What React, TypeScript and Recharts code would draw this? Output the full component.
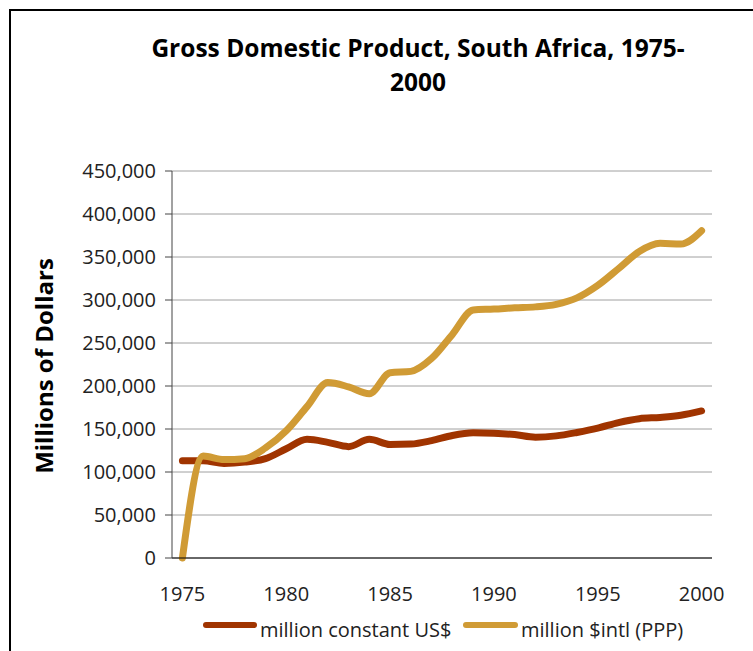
import { LineChart, Line, XAxis, YAxis, CartesianGrid } from 'recharts';

const years = [
  1975, 1976, 1977, 1978, 1979, 1980, 1981, 1982, 1983, 1984, 1985, 1986, 1987,
  1988, 1989, 1990, 1991, 1992, 1993, 1994, 1995, 1996, 1997, 1998, 1999, 2000,
];

// million constant US$
const constantUsd = [
  113000, 113000, 110000, 111500, 115500, 127000, 138000, 134500, 129500, 138000,
  132000, 132500, 136500, 142500, 145500, 145000, 143500, 140500, 142000, 146000,
  151000, 157500, 162000, 163500, 166000, 171000,
];

// million $intl (PPP)
const intlPpp = [
  0, 118500, 114500, 115500, 128000, 148000, 176000, 204000, 199000, 191000,
  215500, 217000, 232000, 260000, 288500, 289500, 291000, 292000, 295000, 302500,
  317000, 336500, 356500, 366000, 365000, 380500,
];

const yTicks = [0, 50000, 100000, 150000, 200000, 250000, 300000, 350000, 400000, 450000];

const BROWN = '#a03400';
const GOLD = '#d09b35';
const FONT = '"Open Sans", "Noto Sans", sans-serif';

const data = years.map((year, i) => ({
  year,
  usd: constantUsd[i],
  ppp: intlPpp[i],
}));

export default function App() {
  return (
    <div
      style={{
        position: 'absolute',
        left: 0,
        top: 0,
        width: 753,
        height: 651,
        overflow: 'hidden',
        background: '#fff',
        fontFamily: FONT,
      }}
    >
      <LineChart
        width={753}
        height={651}
        data={data}
        margin={{ top: 171, right: 41, left: 0, bottom: 58 }}
      >
        <CartesianGrid vertical={false} stroke="#a0a0a0" strokeWidth={1} />
        <XAxis
          dataKey="year"
          type="category"
          interval={4}
          height={35}
          padding={{ left: 10.4, right: 10.4 }}
          tickLine={false}
          tickSize={0}
          tickMargin={29}
          stroke="#000"
          tick={{ fill: '#222', fontSize: 20, fontFamily: FONT }}
        />
        <YAxis
          width={172}
          domain={[0, 450000]}
          ticks={yTicks}
          tickSize={7}
          tickMargin={9}
          stroke="#444"
          tickFormatter={(v: number) => v.toLocaleString('en-US')}
          tick={{ fill: '#222', fontSize: 20, fontFamily: FONT }}
        />
        <Line
          type="monotone"
          dataKey="usd"
          name="million constant US$"
          stroke={BROWN}
          strokeWidth={7}
          strokeLinecap="round"
          dot={false}
          isAnimationActive={false}
        />
        <Line
          type="monotone"
          dataKey="ppp"
          name="million $intl (PPP)"
          stroke={GOLD}
          strokeWidth={7}
          strokeLinecap="round"
          dot={false}
          isAnimationActive={false}
        />
      </LineChart>

      {/* frame, title, axis title and legend */}
      <svg
        width={753}
        height={651}
        style={{ position: 'absolute', left: 0, top: 0, pointerEvents: 'none' }}
      >
        <rect x={10} y={10} width={800} height={700} fill="none" stroke="#000" strokeWidth={2} />
        <text
          x={418}
          y={57}
          textAnchor="middle"
          fontFamily={FONT}
          fontWeight="bold"
          fontSize={24.5}
          fill="#000"
        >
          Gross Domestic Product, South Africa, 1975-
        </text>
        <text
          x={418}
          y={91}
          textAnchor="middle"
          fontFamily={FONT}
          fontWeight="bold"
          fontSize={24.5}
          fill="#000"
        >
          2000
        </text>
        <text
          transform="translate(53,366) rotate(-90)"
          textAnchor="middle"
          fontFamily={FONT}
          fontWeight="bold"
          fontSize={24}
          fill="#000"
        >
          Millions of Dollars
        </text>

        <line x1={206} y1={625} x2={254} y2={625} stroke={BROWN} strokeWidth={6} strokeLinecap="round" />
        <text x={260} y={637} fontFamily={FONT} fontSize={20} fill="#222">
          million constant US$
        </text>
        <line x1={466} y1={625} x2={515} y2={625} stroke={GOLD} strokeWidth={6} strokeLinecap="round" />
        <text x={521} y={637} fontFamily={FONT} fontSize={20} fill="#222">
          million $intl (PPP)
        </text>
      </svg>
    </div>
  );
}
